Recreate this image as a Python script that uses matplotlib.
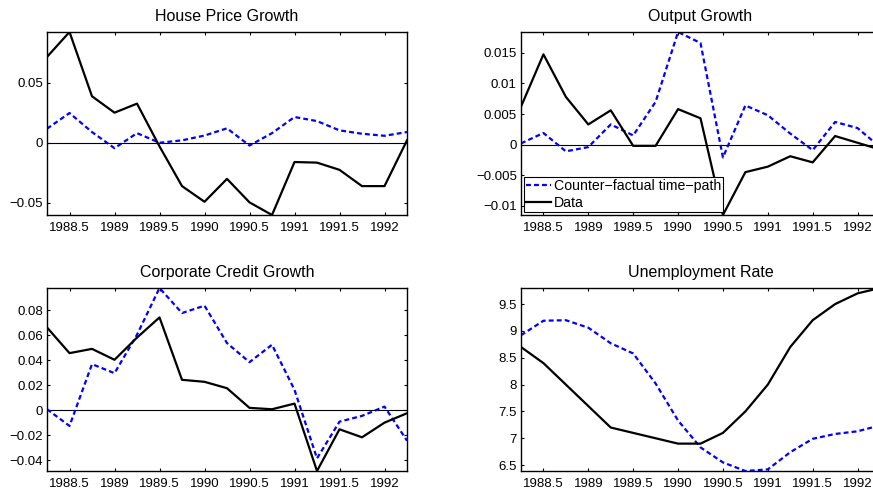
import matplotlib
matplotlib.use("Agg")
import matplotlib.pyplot as plt

plt.rcParams['font.family'] = ['Liberation Sans', 'DejaVu Sans']

quarters = [1988.25, 1988.5, 1988.75, 1989.0, 1989.25, 1989.5, 1989.75, 1990.0,
            1990.25, 1990.5, 1990.75, 1991.0, 1991.25, 1991.5, 1991.75, 1992.0, 1992.25]

house_data = [0.0713, 0.092, 0.0386, 0.025, 0.0325, -0.003, -0.036, -0.049,
              -0.030, -0.0495, -0.060, -0.016, -0.0165, -0.0225, -0.036, -0.036, 0.002]
house_cf = [0.0117, 0.0247, 0.0089, -0.0045, 0.008, 0.0, 0.002, 0.006,
            0.012, -0.0023, 0.008, 0.0214, 0.018, 0.0103, 0.0075, 0.0058, 0.0089]

output_data = [0.0062, 0.01475, 0.0078, 0.0033, 0.0056, -0.0002, -0.0002, 0.0058,
               0.0043, -0.0115, -0.0045, -0.0036, -0.0019, -0.0029, 0.0014, 0.0003, -0.0008]
output_cf = [0.0002, 0.0019, -0.0011, -0.0004, 0.0033, 0.0015, 0.007, 0.0184,
             0.0166, -0.0021, 0.0064, 0.0048, 0.0018, -0.0009, 0.0037, 0.0027, -0.0004]

credit_data = [0.0661, 0.0456, 0.049, 0.0403, 0.058, 0.0741, 0.0243, 0.0227,
               0.0176, 0.0019, 0.0008, 0.0053, -0.0485, -0.0152, -0.0216, -0.0099, -0.0024]
credit_cf = [0.0008, -0.0125, 0.0368, 0.0296, 0.0603, 0.0976, 0.0776, 0.0835,
             0.0536, 0.0384, 0.0523, 0.0163, -0.0384, -0.0091, -0.0045, 0.0029, -0.0243]

unemp_data = [8.7, 8.4, 8.0, 7.6, 7.2, 7.1, 7.0, 6.9,
              6.9, 7.1, 7.5, 8.0, 8.7, 9.2, 9.5, 9.7, 9.8]
unemp_cf = [8.92, 9.19, 9.2, 9.06, 8.77, 8.58, 8.02, 7.33,
            6.83, 6.55, 6.39, 6.42, 6.74, 6.99, 7.08, 7.13, 7.24]

xticks = [1988.5, 1989, 1989.5, 1990, 1990.5, 1991, 1991.5, 1992]
xticklabels = ['1988.5', '1989', '1989.5', '1990', '1990.5', '1991', '1991.5', '1992']

panels = [
    ("House Price Growth", house_cf, house_data,
     [-0.05, 0, 0.05], ['\u22120.05', '0', '0.05'], False),
    ("Output Growth", output_cf, output_data,
     [-0.01, -0.005, 0, 0.005, 0.01, 0.015],
     ['\u22120.01', '\u22120.005', '0', '0.005', '0.01', '0.015'], True),
    ("Corporate Credit Growth", credit_cf, credit_data,
     [-0.04, -0.02, 0, 0.02, 0.04, 0.06, 0.08],
     ['\u22120.04', '\u22120.02', '0', '0.02', '0.04', '0.06', '0.08'], False),
    ("Unemployment Rate", unemp_cf, unemp_data,
     [6.5, 7, 7.5, 8, 8.5, 9, 9.5],
     ['6.5', '7', '7.5', '8', '8.5', '9', '9.5'], False),
]

W, H = 873, 493
positions = [
    (47 / W, 1 - 215 / H, 360 / W, 183 / H),
    (521 / W, 1 - 215 / H, 359 / W, 183 / H),
    (47 / W, 1 - 471 / H, 360 / W, 183 / H),
    (521 / W, 1 - 471 / H, 359 / W, 183 / H),
]

fig = plt.figure(figsize=(W / 100, H / 100), dpi=100)

for i, (title, cf, data, yt, ytl, legend) in enumerate(panels):
    ax = fig.add_axes(positions[i])
    ax.plot(quarters, cf, color='#0000ff', lw=1.6, ls=(0, (2.2, 1.4)),
            label='Counter\u2212factual time\u2212path')
    ax.plot(quarters, data, color='black', lw=1.6, label='Data')
    if i != 3:
        ax.axhline(0, color='black', lw=0.8, zorder=1)
    allv = list(cf) + list(data)
    ax.set_ylim(min(allv), max(allv))
    ax.set_xlim(quarters[0], quarters[-1])
    ax.set_xticks(xticks)
    ax.set_xticklabels(xticklabels)
    ax.set_yticks(yt)
    ax.set_yticklabels(ytl)
    ax.tick_params(direction='in', length=2.5, width=0.8, labelsize=9.5,
                   top=True, right=True)
    ax.tick_params(axis='x', pad=5)
    ax.tick_params(axis='y', pad=3)
    for s in ax.spines.values():
        s.set_linewidth(1.0)
    ax.set_title(title, fontsize=11.5, pad=8)
    if legend:
        leg = ax.legend(loc='lower left', fontsize=10.2, fancybox=False,
                        framealpha=1, edgecolor='black', borderpad=0.15,
                        handlelength=1.8, handletextpad=0.18, labelspacing=0.24,
                        borderaxespad=0.2)
        leg.get_frame().set_linewidth(0.8)

fig.savefig('out.png', dpi=100)
